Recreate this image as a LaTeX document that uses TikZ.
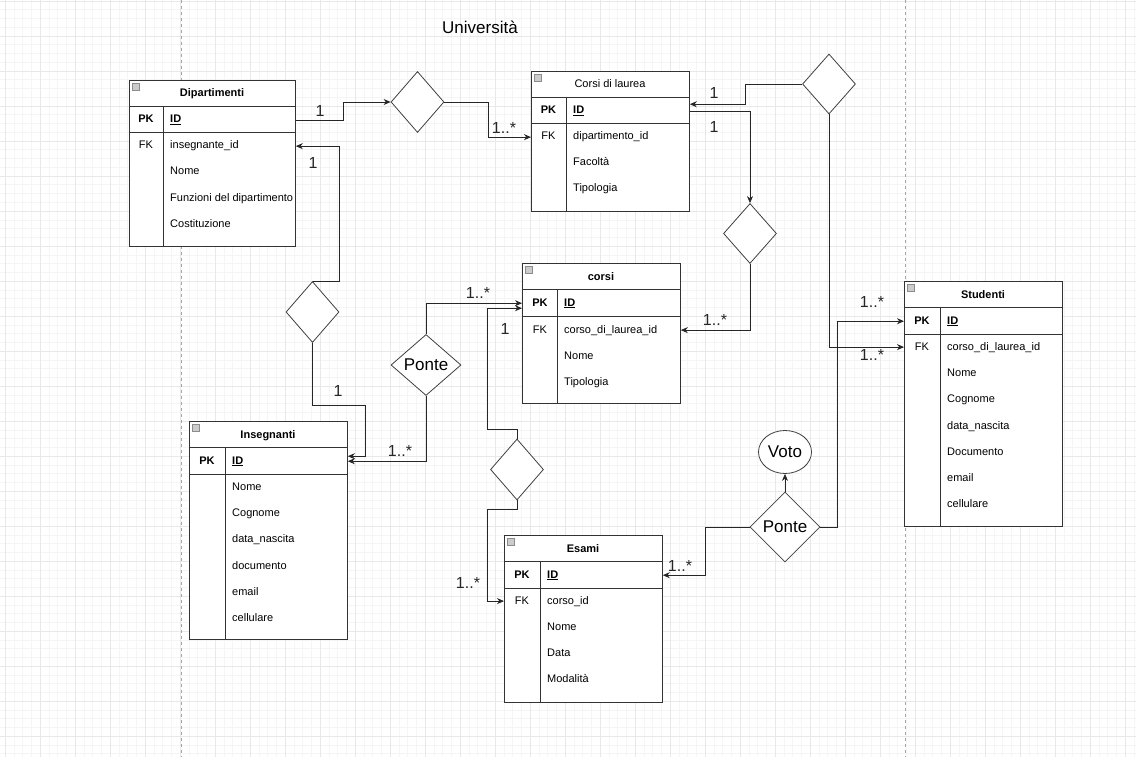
\documentclass[tikz,border=0pt]{standalone}
\usepackage{fontspec}
\setmainfont{Liberation Sans}
\usetikzlibrary{arrows.meta,shapes.geometric}

\tikzset{
  tbl/.style={draw=black!80, fill=white, line width=0.8pt, inner sep=0pt, anchor=north west},
  tline/.style={draw=black!80, line width=0.8pt},
  ttitle/.style={font=\fontsize{11}{13}\selectfont\bfseries, anchor=base, yshift=-4pt},
  tkey/.style={font=\fontsize{11}{13}\selectfont, anchor=base, yshift=-4pt},
  tfield/.style={font=\fontsize{11}{13}\selectfont, anchor=base west, inner sep=0pt, yshift=-4pt},
  rel/.style={diamond, draw=black!75, fill=white, line width=0.8pt, inner sep=0pt, font=\fontsize{17}{19}\selectfont},
  conn/.style={draw=black!85, line width=0.8pt, -{Stealth[length=7pt,width=6pt]}},
  lbl/.style={font=\fontsize{16}{18}\selectfont, text=black!85},
  icon/.style={draw=black!45, fill=black!20, line width=0.4pt}
}

\begin{document}
\begin{tikzpicture}[x=1pt, y=-1pt]
  \useasboundingbox (0,0) rectangle (1136,757);
  \fill[white] (0,0) rectangle (1136,757);
  \begin{scope}[shift={(5,1)}]
    \draw[black!4, line width=0.5pt, step=8.75pt] (-5,-1) grid (1131,756);
    \draw[black!9, line width=0.5pt, step=35pt] (-5,-1) grid (1131,756);
  \end{scope}
  \draw[black!35, line width=0.8pt, dash pattern=on 3pt off 3pt] (181,0) -- (181,757) (905,0) -- (905,757);

  \node[font=\fontsize{17}{19}\selectfont] (titolo) at (480,27) {Università};

  % Dipartimenti
  \node[tbl, minimum width=166pt, minimum height=166pt] (dip) at (129,80) {};
  \draw[tline] (129,106) -- (295,106) (129,132) -- (295,132) (163.5,106) -- (163.5,246);
  \draw[icon] (132,83) rectangle ++(7,7);
  \node[ttitle] (diptitle) at (212,93) {Dipartimenti};
  \node[tkey] (dippk) at (146,119) {\textbf{PK}};
  \node[tfield] (dipid) at (170,119) {\textbf{\underline{ID}}};
  \node[tkey] (dipfkk) at (146,145) {FK};
  \node[tfield] (dipfk) at (170,145) {insegnante\_id};
  \node[tfield] (dipnome) at (170,171) {Nome};
  \node[tfield] (dipfunz) at (170,197) {Funzioni del dipartimento};
  \node[tfield] (dipcost) at (170,223) {Costituzione};

  % Corsi di laurea
  \node[tbl, minimum width=158pt, minimum height=140pt] (cdl) at (531,71) {};
  \draw[tline] (531,97) -- (689,97) (531,123) -- (689,123) (566,97) -- (566,211);
  \draw[icon] (534,74) rectangle ++(7,7);
  \node[tkey] (cdltitle) at (610,84) {Corsi di laurea};
  \node[tkey] (cdlpk) at (548.5,110) {\textbf{PK}};
  \node[tfield] (cdlid) at (573,110) {\textbf{\underline{ID}}};
  \node[tkey] (cdlfkk) at (548.5,136) {FK};
  \node[tfield] (cdlfk) at (573,136) {dipartimento\_id};
  \node[tfield] (cdlfac) at (573,162) {Facoltà};
  \node[tfield] (cdltip) at (573,188) {Tipologia};

  % corsi
  \node[tbl, minimum width=158pt, minimum height=140pt] (corsi) at (522,263) {};
  \draw[tline] (522,289) -- (680,289) (522,316) -- (680,316) (557.5,289) -- (557.5,403);
  \draw[icon] (525,266) rectangle ++(7,7);
  \node[ttitle] (corsititle) at (601,276) {corsi};
  \node[tkey] (corsipk) at (540,302) {\textbf{PK}};
  \node[tfield] (corsiid) at (564,302) {\textbf{\underline{ID}}};
  \node[tkey] (corsifkk) at (540,329) {FK};
  \node[tfield] (corsifk) at (564,329) {corso\_di\_laurea\_id};
  \node[tfield] (corsinome) at (564,355) {Nome};
  \node[tfield] (corsitip) at (564,381) {Tipologia};

  % Studenti
  \node[tbl, minimum width=158pt, minimum height=245pt] (stu) at (904,281) {};
  \draw[tline] (904,307) -- (1062,307) (904,334) -- (1062,334) (940,307) -- (940,526);
  \draw[icon] (907,284) rectangle ++(7,7);
  \node[ttitle] (stutitle) at (983,294) {Studenti};
  \node[tkey] (stupk) at (922,320) {\textbf{PK}};
  \node[tfield] (stuid) at (947,320) {\textbf{\underline{ID}}};
  \node[tkey] (stufkk) at (922,346) {FK};
  \node[tfield] (stufk) at (947,346) {corso\_di\_laurea\_id};
  \node[tfield] (stunome) at (947,372) {Nome};
  \node[tfield] (stucogn) at (947,398) {Cognome};
  \node[tfield] (studata) at (947,425) {data\_nascita};
  \node[tfield] (studoc) at (947,451) {Documento};
  \node[tfield] (stumail) at (947,477) {email};
  \node[tfield] (stucell) at (947,503) {cellulare};

  % Insegnanti
  \node[tbl, minimum width=158pt, minimum height=218pt] (ins) at (189,421) {};
  \draw[tline] (189,447) -- (347,447) (189,474) -- (347,474) (225,447) -- (225,639);
  \draw[icon] (192,424) rectangle ++(7,7);
  \node[ttitle] (institle) at (268,434) {Insegnanti};
  \node[tkey] (inspk) at (207,460) {\textbf{PK}};
  \node[tfield] (insid) at (232,460) {\textbf{\underline{ID}}};
  \node[tfield] (insnome) at (232,486) {Nome};
  \node[tfield] (inscogn) at (232,512) {Cognome};
  \node[tfield] (insdata) at (232,538) {data\_nascita};
  \node[tfield] (insdoc) at (232,565) {documento};
  \node[tfield] (insmail) at (232,591) {email};
  \node[tfield] (inscell) at (232,617) {cellulare};

  % Esami
  \node[tbl, minimum width=158pt, minimum height=167pt] (esa) at (504,535) {};
  \draw[tline] (504,561.5) -- (662,561.5) (504,588) -- (662,588) (540,561.5) -- (540,702);
  \draw[icon] (507,538) rectangle ++(7,7);
  \node[ttitle] (esatitle) at (583,548) {Esami};
  \node[tkey] (esapk) at (522,574) {\textbf{PK}};
  \node[tfield] (esaid) at (547,574) {\textbf{\underline{ID}}};
  \node[tkey] (esafkk) at (522,600) {FK};
  \node[tfield] (esafk) at (547,600) {corso\_id};
  \node[tfield] (esanome) at (547,626) {Nome};
  \node[tfield] (esadata) at (547,652) {Data};
  \node[tfield] (esamod) at (547,678) {Modalità};

  % relazioni
  \node[rel, minimum width=53pt, minimum height=61pt] (d1) at (417.5,102) {};
  \node[rel, minimum width=53pt, minimum height=60pt] (d2) at (750,233.5) {};
  \node[rel, minimum width=53pt, minimum height=60pt] (d3) at (829,84) {};
  \node[rel, minimum width=53pt, minimum height=61pt] (d4) at (312.5,312) {};
  \node[rel, minimum width=53pt, minimum height=61pt] (d5) at (517,469.5) {};
  \node[rel, minimum width=70pt, minimum height=61pt] (p1) at (426,365) {Ponte};
  \node[rel, minimum width=70pt, minimum height=70pt] (p2) at (785,527) {Ponte};
  \node[ellipse, draw=black!75, fill=white, line width=0.8pt, minimum width=53pt, minimum height=43pt, inner sep=0pt, font=\fontsize{17}{19}\selectfont] (voto) at (785,452) {Voto};

  % collegamenti
  \draw[conn] (dip.east |- dipid) -- ++(48,0) |- (d1.west);
  \draw[conn] (d1.east) -- ++(43.5,0) |- (cdl.west |- cdlfk);
  \draw[conn] (d4.north) -- ++(26.5,0) |- (dip.east |- dipfk);
  \draw[conn] (d4.south) -- ++(0,62) -- ++(52.5,0) |- ([yshift=5pt]ins.east |- insid);
  \draw[conn] (p1.north) |- (corsi.west |- corsiid);
  \draw[conn] (p1.south) |- (ins.east |- insid);
  \draw[conn] (d5.north) -- ++(0,-9) -- ++(-29.5,0) |- ([yshift=-5pt]corsi.west |- corsiid);
  \draw[conn] (d5.south) -- ++(0,9) -- ++(-29.5,0) |- (esa.west |- esafk);
  \draw[conn] (cdl.east |- cdlid) -| (d2.north);
  \draw[conn] (d2.south) |- (corsi.east |- corsifk);
  \draw[conn] (d3.west) -- ++(-57,0) |- ([yshift=7pt]cdl.east |- cdlid);
  \draw[conn] (d3.south) |- (stu.west |- stufk);
  \draw[conn] (p2.east) -- ++(17,0) |- (stu.west |- stuid);
  \draw[conn] (p2.west) -- ++(-44,0) |- (esa.east |- esaid);
  \draw[conn] (p2.north) -- (voto.south);

  % cardinalita
  \node[lbl] (c1) at (320,111) {1};
  \node[lbl] (c2) at (504,128) {1..*};
  \node[lbl] (c3) at (313,163) {1};
  \node[lbl] (c4) at (338,391) {1};
  \node[lbl] (c5) at (478,293) {1..*};
  \node[lbl] (c6) at (400,451) {1..*};
  \node[lbl] (c7) at (505,329) {1};
  \node[lbl] (c8) at (468,583) {1..*};
  \node[lbl] (c9) at (714,127) {1};
  \node[lbl] (c10) at (715,320) {1..*};
  \node[lbl] (c11) at (714,93) {1};
  \node[lbl] (c12) at (872,355) {1..*};
  \node[lbl] (c13) at (872,302) {1..*};
  \node[lbl] (c14) at (680,566) {1..*};
\end{tikzpicture}
\end{document}
